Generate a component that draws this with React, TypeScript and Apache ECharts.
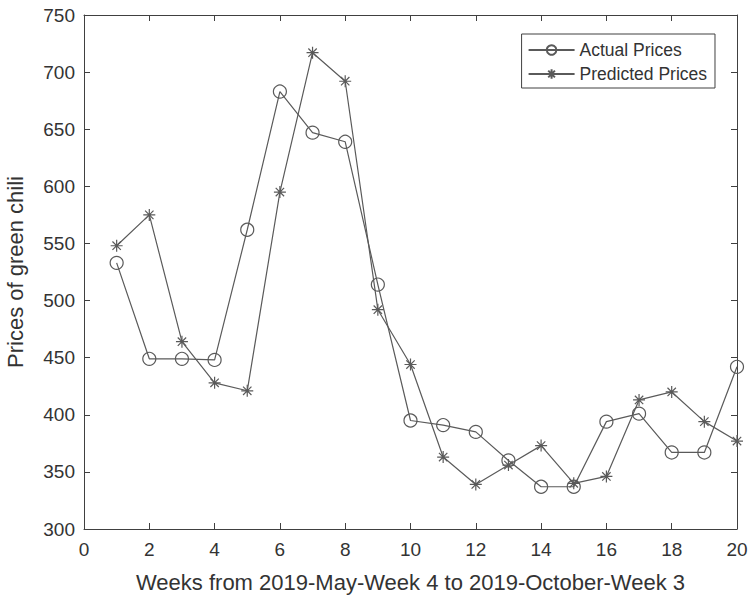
import React, { useEffect, useRef } from "react";
import * as echarts from "echarts";

const weeks = [1, 2, 3, 4, 5, 6, 7, 8, 9, 10, 11, 12, 13, 14, 15, 16, 17, 18, 19, 20];
const actualPrices = [533, 449, 449, 448, 562, 683, 647, 639, 514, 395, 391, 385, 360, 337, 337, 394, 401, 367, 367, 442];
const predictedPrices = [548, 575, 464, 428, 421, 595, 717, 692, 492, 444, 363, 339, 356, 373, 340, 346, 413, 420, 394, 377];
const xTicks = [0, 2, 4, 6, 8, 10, 12, 14, 16, 18, 20];
const yTicks = [300, 350, 400, 450, 500, 550, 600, 650, 700, 750];

const FONT = "'Liberation Sans', Arial, sans-serif";
const AXIS = "#404040";
const LINE = "#5a5a5a";
const TEXT = "#333333";

const STAR = "path://M0,-10L0,10M-10,0L10,0M-7,-7L7,7M-7,7L7,-7";

export default function App() {
  const ref = useRef<HTMLDivElement>(null);
  useEffect(() => {
    document.body.style.margin = "0";
    const chart = echarts.init(ref.current!, null, { renderer: "svg" });
    const mkAxisCommon = {
      axisLine: { show: true, onZero: false, lineStyle: { color: AXIS, width: 1 } },
      axisTick: { show: true, inside: true, length: 6, lineStyle: { color: AXIS } },
      splitLine: { show: false },
    };
    chart.setOption({
      animation: false,
      backgroundColor: "#ffffff",
      grid: { left: 84, right: 11, top: 15, bottom: 66, containLabel: false, outerBoundsMode: "none" },
      legend: {
        orient: "vertical",
        right: 33,
        top: 34,
        padding: [7, 8, 5, 6],
        itemGap: 6,
        itemWidth: 46,
        itemHeight: 12,
        borderColor: AXIS,
        borderWidth: 1,
        backgroundColor: "#fff",
        textStyle: { fontFamily: FONT, fontSize: 17.5, color: TEXT },
        data: ["Actual Prices", "Predicted Prices"],
      },
      xAxis: [
        {
          type: "value",
          min: 0,
          max: 20,
          interval: 2,
          ...mkAxisCommon,
          axisLabel: { fontFamily: FONT, fontSize: 19, color: TEXT, margin: 11, customValues: xTicks },
          axisTick: { show: true, inside: true, length: 6, lineStyle: { color: AXIS }, customValues: xTicks },
          name: "Weeks from 2019-May-Week 4 to 2019-October-Week 3",
          nameLocation: "middle",
          nameGap: 42,
          nameTextStyle: { fontFamily: FONT, fontSize: 22, color: TEXT },
        },
        {
          type: "value",
          position: "top",
          min: 0,
          max: 20,
          interval: 2,
          ...mkAxisCommon,
          axisLabel: { show: false },
        },
      ],
      yAxis: [
        {
          type: "value",
          min: 300,
          max: 750,
          interval: 50,
          ...mkAxisCommon,
          axisLabel: { fontFamily: FONT, fontSize: 19, color: TEXT, margin: 9, customValues: yTicks },
          axisTick: { show: true, inside: true, length: 6, lineStyle: { color: AXIS }, customValues: yTicks },
          name: "Prices of green chili",
          nameLocation: "middle",
          nameGap: 58,
          nameTextStyle: { fontFamily: FONT, fontSize: 22, color: TEXT },
        },
        {
          type: "value",
          position: "right",
          min: 300,
          max: 750,
          interval: 50,
          ...mkAxisCommon,
          axisLabel: { show: false },
        },
      ],
      series: [
        {
          name: "Actual Prices",
          type: "line",
          data: weeks.map((w, i) => [w, actualPrices[i]]),
          symbol: "circle",
          symbolSize: 13,
          showAllSymbol: true,
          lineStyle: { color: LINE, width: 1.2 },
          itemStyle: { color: "rgba(255,255,255,0)", borderColor: LINE, borderWidth: 1.2 },
        },
        {
          name: "Predicted Prices",
          type: "line",
          data: weeks.map((w, i) => [w, predictedPrices[i]]),
          symbol: STAR,
          symbolSize: 12,
          showAllSymbol: true,
          lineStyle: { color: LINE, width: 1.2 },
          itemStyle: { color: "none", borderColor: LINE, borderWidth: 1.2 },
        },
      ],
    });
    return () => chart.dispose();
  }, []);
  return (
    <div
      ref={ref}
      style={{ position: "fixed", left: 0, top: 0, width: 748, height: 595 }}
    />
  );
}
